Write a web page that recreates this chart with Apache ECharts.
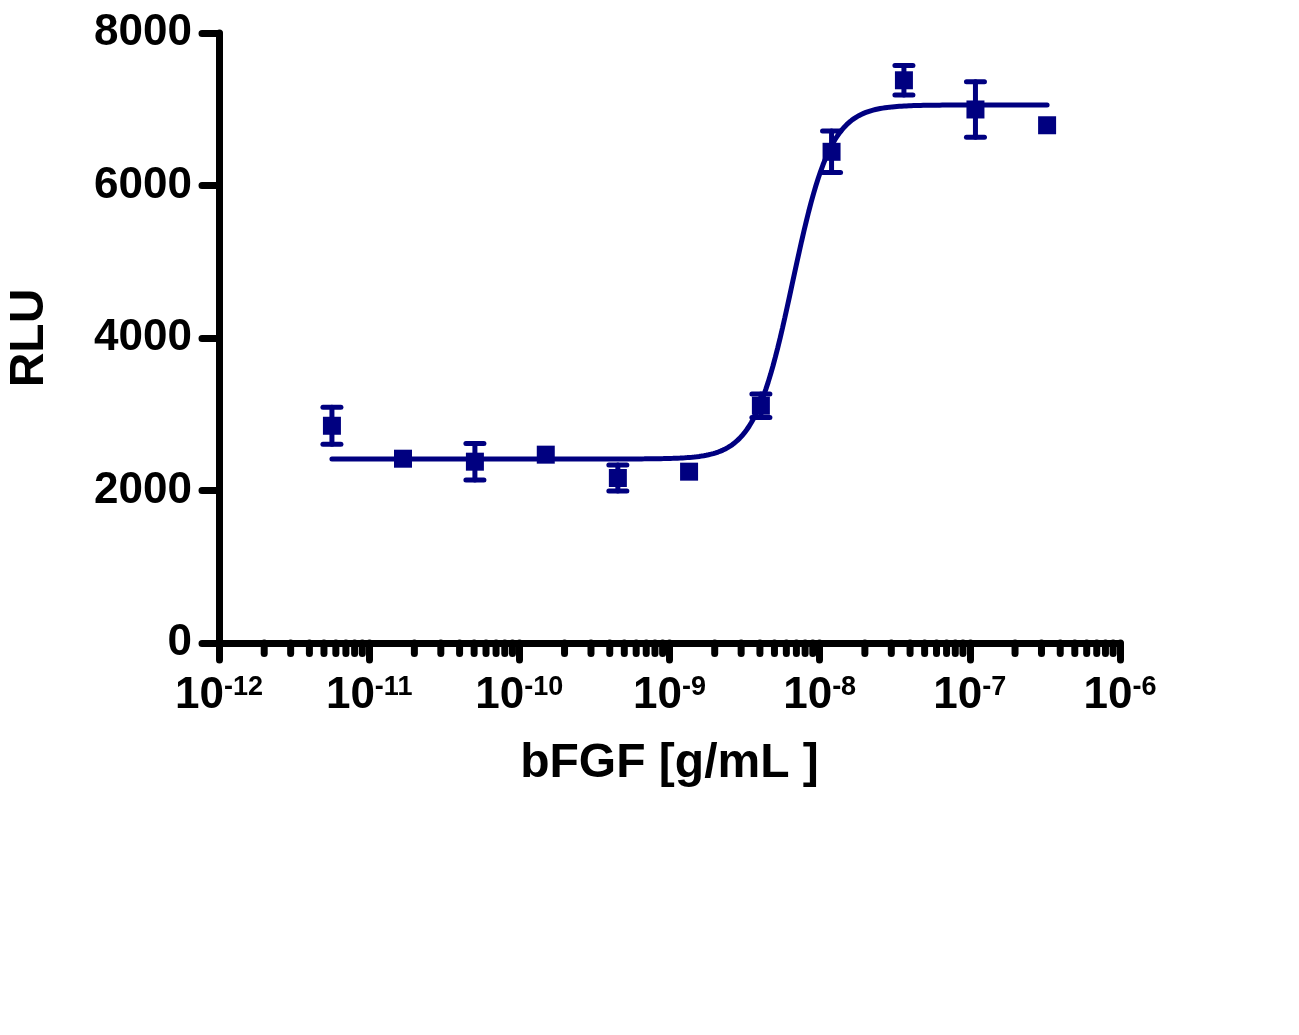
<!DOCTYPE html>
<html><head><meta charset="utf-8">
<script src="https://cdn.jsdelivr.net/npm/echarts@6/dist/echarts.min.js"></script>
<style>html,body{margin:0;padding:0;background:#fff}#c{width:1299px;height:1035px}</style>
</head><body><div id="c"></div>
<script>
// ---- data ----
const concentrations = [5.65e-12, 1.68e-11, 5.06e-11, 1.50e-10, 4.53e-10, 1.35e-9, 4.06e-9, 1.20e-8, 3.64e-8, 1.09e-7, 3.27e-7];
const rluMean = [2849, 2417, 2378, 2470, 2164, 2247, 3112, 6442, 7380, 6997, 6790];
const rluError = [243, 0, 240, 0, 170, 0, 153, 273, 193, 365, 0]; // 0 = bar hidden behind symbol
// 4-parameter logistic fit drawn in the reference
const fitBottom = 2413;
const fitTop = 7056;
const fitLogEC50 = -8.18;
const fitHill = 3.42;
// axes
const xMin = 1e-12, xMax = 1e-6;
const yTicks = [0, 2000, 4000, 6000, 8000];
const minorMultipliers = [2, 3, 4, 5, 6, 7, 8, 9];
const minorExponents = [-12, -11, -10, -9, -8, -7];

const NAVY = '#000080';
const FONT = '"Liberation Sans", Arial, Helvetica, sans-serif';

// fit curve points from the 4PL model
const fitCurve = [];
{
  const lo = Math.log10(concentrations[0]), hi = Math.log10(concentrations[concentrations.length - 1]);
  const n = 300;
  for (let i = 0; i <= n; i++) {
    const lx = lo + (hi - lo) * i / n;
    const y = fitBottom + (fitTop - fitBottom) / (1 + Math.pow(10, (fitLogEC50 - lx) * fitHill));
    fitCurve.push([Math.pow(10, lx), y]);
  }
}
const minorTickData = [];
minorExponents.forEach(e => minorMultipliers.forEach(m => minorTickData.push([m * Math.pow(10, e), 0])));

const chart = echarts.init(document.getElementById('c'), null, {renderer: 'canvas'});
chart.setOption({
  animation: false,
  backgroundColor: '#fff',
  grid: {left: 219, right: 179, top: 33, bottom: 392, containLabel: false, outerBoundsMode: 'none'},
  xAxis: {
    type: 'log', logBase: 10, min: xMin, max: xMax, splitNumber: 6,
    name: 'bFGF [g/mL ]', nameLocation: 'middle', nameGap: 97,
    nameTextStyle: {fontFamily: FONT, fontWeight: 'bold', fontSize: 48, color: '#000'},
    axisLine: {show: true, lineStyle: {color: '#000', width: 7, cap: 'round'}},
    axisTick: {show: true, length: 17, lineStyle: {color: '#000', width: 7, cap: 'round'}},
    minorTick: {show: false},
    splitLine: {show: false},
    axisLabel: {
      margin: 31,
      formatter: v => '{b|10}{s|' + Math.round(Math.log10(v)) + '}',
      rich: {
        b: {fontFamily: FONT, fontWeight: 'bold', fontSize: 44, color: '#000'},
        s: {fontFamily: FONT, fontWeight: 'bold', fontSize: 27, color: '#000', verticalAlign: 'top'}
      }
    }
  },
  yAxis: {
    type: 'value', min: yTicks[0], max: yTicks[yTicks.length - 1], interval: 2000,
    name: 'RLU', nameLocation: 'middle', nameGap: 165,
    nameTextStyle: {fontFamily: FONT, fontWeight: 'bold', fontSize: 48, color: '#000'},
    axisLine: {show: true, lineStyle: {color: '#000', width: 7, cap: 'round'}},
    axisTick: {show: true, length: 17, lineStyle: {color: '#000', width: 7, cap: 'round'}},
    splitLine: {show: false},
    axisLabel: {margin: 27, fontFamily: FONT, fontWeight: 'bold', fontSize: 44, color: '#000',
      formatter: v => String(v)}
  },
  series: [
    {
      type: 'custom', name: 'minorTicks', silent: true, clip: false, z: 1,
      data: minorTickData,
      renderItem: (params, api) => {
        const p = api.coord([api.value(0), 0]);
        return {type: 'line', shape: {x1: p[0], y1: p[1], x2: p[0], y2: p[1] + 10.5},
          style: {stroke: '#000', lineWidth: 7, lineCap: 'round'}};
      }
    },
    {
      type: 'line', name: 'fit', data: fitCurve, showSymbol: false, symbol: 'none', smooth: false,
      lineStyle: {color: NAVY, width: 5, cap: 'round'}, z: 3, silent: true
    },
    {
      type: 'custom', name: 'errors', silent: true, z: 4,
      data: concentrations.map((c, i) => [c, rluMean[i], rluError[i]]),
      encode: {x: 0, y: 1},
      renderItem: (params, api) => {
        const x = api.value(0), y = api.value(1), e = api.value(2);
        if (!e) return null;
        const t = api.coord([x, y + e]), b = api.coord([x, y - e]);
        const hw = 9;
        const st = {stroke: NAVY, lineWidth: 5, lineCap: 'round'};
        return {type: 'group', children: [
          {type: 'line', shape: {x1: t[0], y1: t[1], x2: b[0], y2: b[1]}, style: st},
          {type: 'line', shape: {x1: t[0] - hw, y1: t[1], x2: t[0] + hw, y2: t[1]}, style: st},
          {type: 'line', shape: {x1: b[0] - hw, y1: b[1], x2: b[0] + hw, y2: b[1]}, style: st}
        ]};
      }
    },
    {
      type: 'scatter', name: 'mean', data: concentrations.map((c, i) => [c, rluMean[i]]),
      symbol: 'rect', symbolSize: 18, itemStyle: {color: NAVY, opacity: 1}, z: 5, silent: true
    }
  ]
});
</script>
</body></html>
